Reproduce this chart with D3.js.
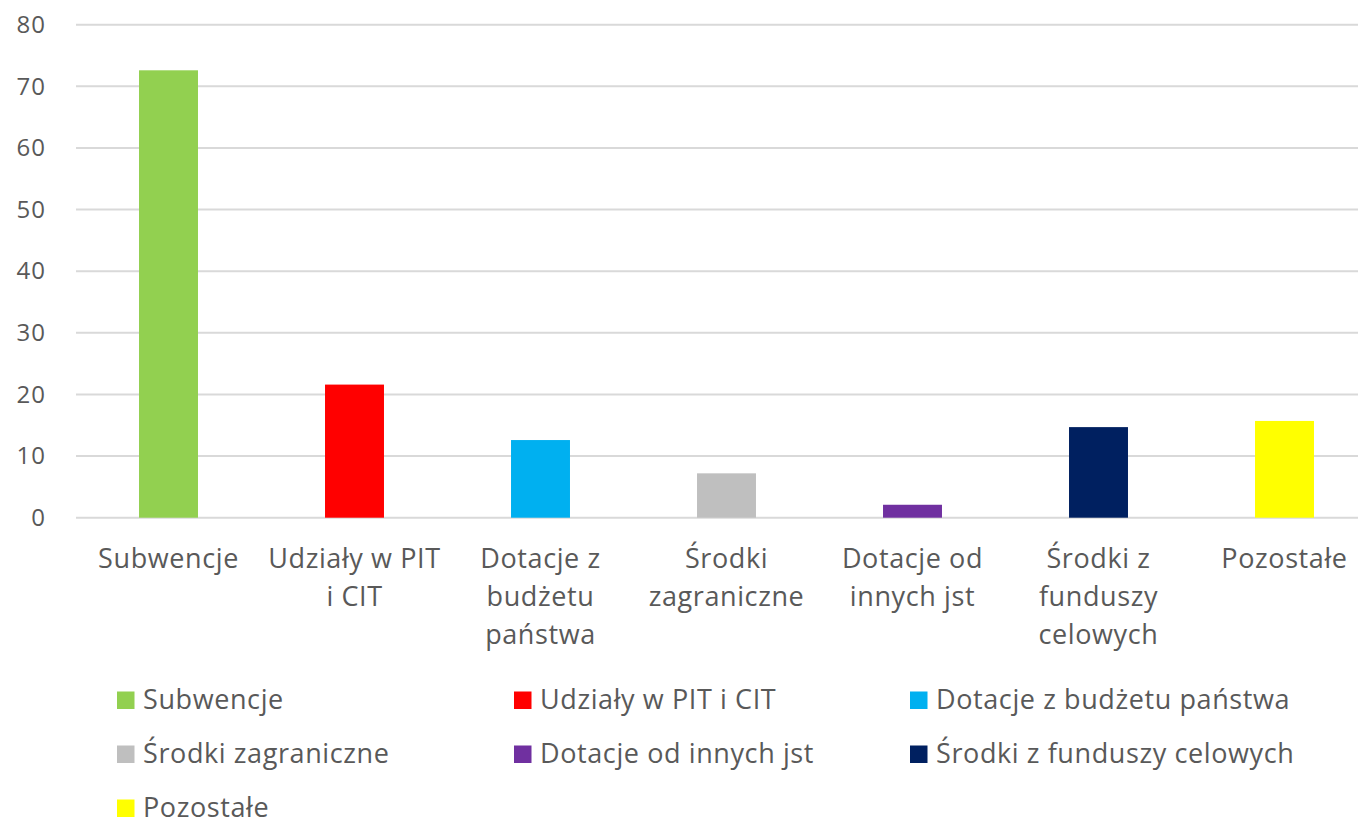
<!DOCTYPE html>
<html>
<head>
<meta charset="utf-8">
<script src="https://cdn.jsdelivr.net/npm/d3@7"></script>
<style>
  body { margin: 0; background: #fff; }
  svg { display: block; font-family: "Open Sans", sans-serif; }
</style>
</head>
<body>
<svg id="chart" width="1358" height="821"></svg>
<script>
const categories = ["Subwencje", "Udziały w PIT i CIT", "Dotacje z budżetu państwa", "Środki zagraniczne", "Dotacje od innych jst", "Środki z funduszy celowych", "Pozostałe"];
const categoryLines = [
  ["Subwencje"],
  ["Udziały w PIT", "i CIT"],
  ["Dotacje z", "budżetu", "państwa"],
  ["Środki", "zagraniczne"],
  ["Dotacje od", "innych jst"],
  ["Środki z", "funduszy", "celowych"],
  ["Pozostałe"]
];
const values = [72.6, 21.6, 12.6, 7.2, 2.1, 14.7, 15.7];
const colors = ["#92d050", "#ff0000", "#00b0f0", "#bfbfbf", "#7030a0", "#002060", "#ffff00"];
const yTicks = [0, 10, 20, 30, 40, 50, 60, 70, 80];

const textColor = "#595959";
const svg = d3.select("#chart");

const x = d3.scaleBand()
  .domain(categories)
  .range([75.5, 1377.5])
  .paddingInner(0.683)
  .paddingOuter(0.3415);

const y = d3.scaleLinear()
  .domain([0, 80])
  .range([517.7, 24.7]);

// gridlines
svg.append("g")
  .selectAll("line")
  .data(yTicks)
  .enter()
  .append("line")
  .attr("x1", 76)
  .attr("x2", 1358)
  .attr("y1", d => y(d))
  .attr("y2", d => y(d))
  .style("stroke", "#d9d9d9")
  .style("stroke-width", "2");

// y axis labels
const yAxis = d3.axisLeft(y).tickValues(yTicks).tickSize(0).tickPadding(0);
svg.append("g")
  .attr("transform", "translate(46,0)")
  .call(yAxis)
  .call(g => g.select(".domain").remove())
  .selectAll("text")
  .style("font-family", "\"Open Sans\", sans-serif")
  .style("font-size", "24px")
  .style("letter-spacing", "1px")
  .style("fill", textColor);

// bars
svg.append("g")
  .selectAll("rect")
  .data(values)
  .enter()
  .append("rect")
  .attr("x", (d, i) => x(categories[i]))
  .attr("width", x.bandwidth())
  .attr("y", d => y(d))
  .attr("height", d => y(0) - y(d))
  .style("fill", (d, i) => colors[i]);

// category labels
const lab = svg.append("g")
  .selectAll("text")
  .data(categoryLines)
  .enter()
  .append("text")
  .attr("text-anchor", "middle")
  .style("font-size", "27px")
  .style("letter-spacing", "0.6px")
  .style("fill", textColor);

lab.each(function (lines, i) {
  const cx = x(categories[i]) + x.bandwidth() / 2;
  d3.select(this)
    .selectAll("tspan")
    .data(lines)
    .enter()
    .append("tspan")
    .attr("x", cx)
    .attr("y", (d, j) => 568 + j * 38)
    .text(d => d);
});

// legend
const legendCols = [117, 514, 910];
const legendRows = [709, 763, 817];
const leg = svg.append("g")
  .selectAll("g")
  .data(categories)
  .enter()
  .append("g")
  .attr("transform", (d, i) => `translate(${legendCols[i % 3]},${legendRows[Math.floor(i / 3)]})`);

leg.append("rect")
  .attr("x", 0)
  .attr("y", -17.5)
  .attr("width", 17.5)
  .attr("height", 17.5)
  .style("fill", (d, i) => colors[i]);

leg.append("text")
  .attr("x", 26)
  .attr("y", 0)
  .style("font-size", "27px")
  .style("letter-spacing", "0.6px")
  .style("fill", textColor)
  .text(d => d);
</script>
</body>
</html>
